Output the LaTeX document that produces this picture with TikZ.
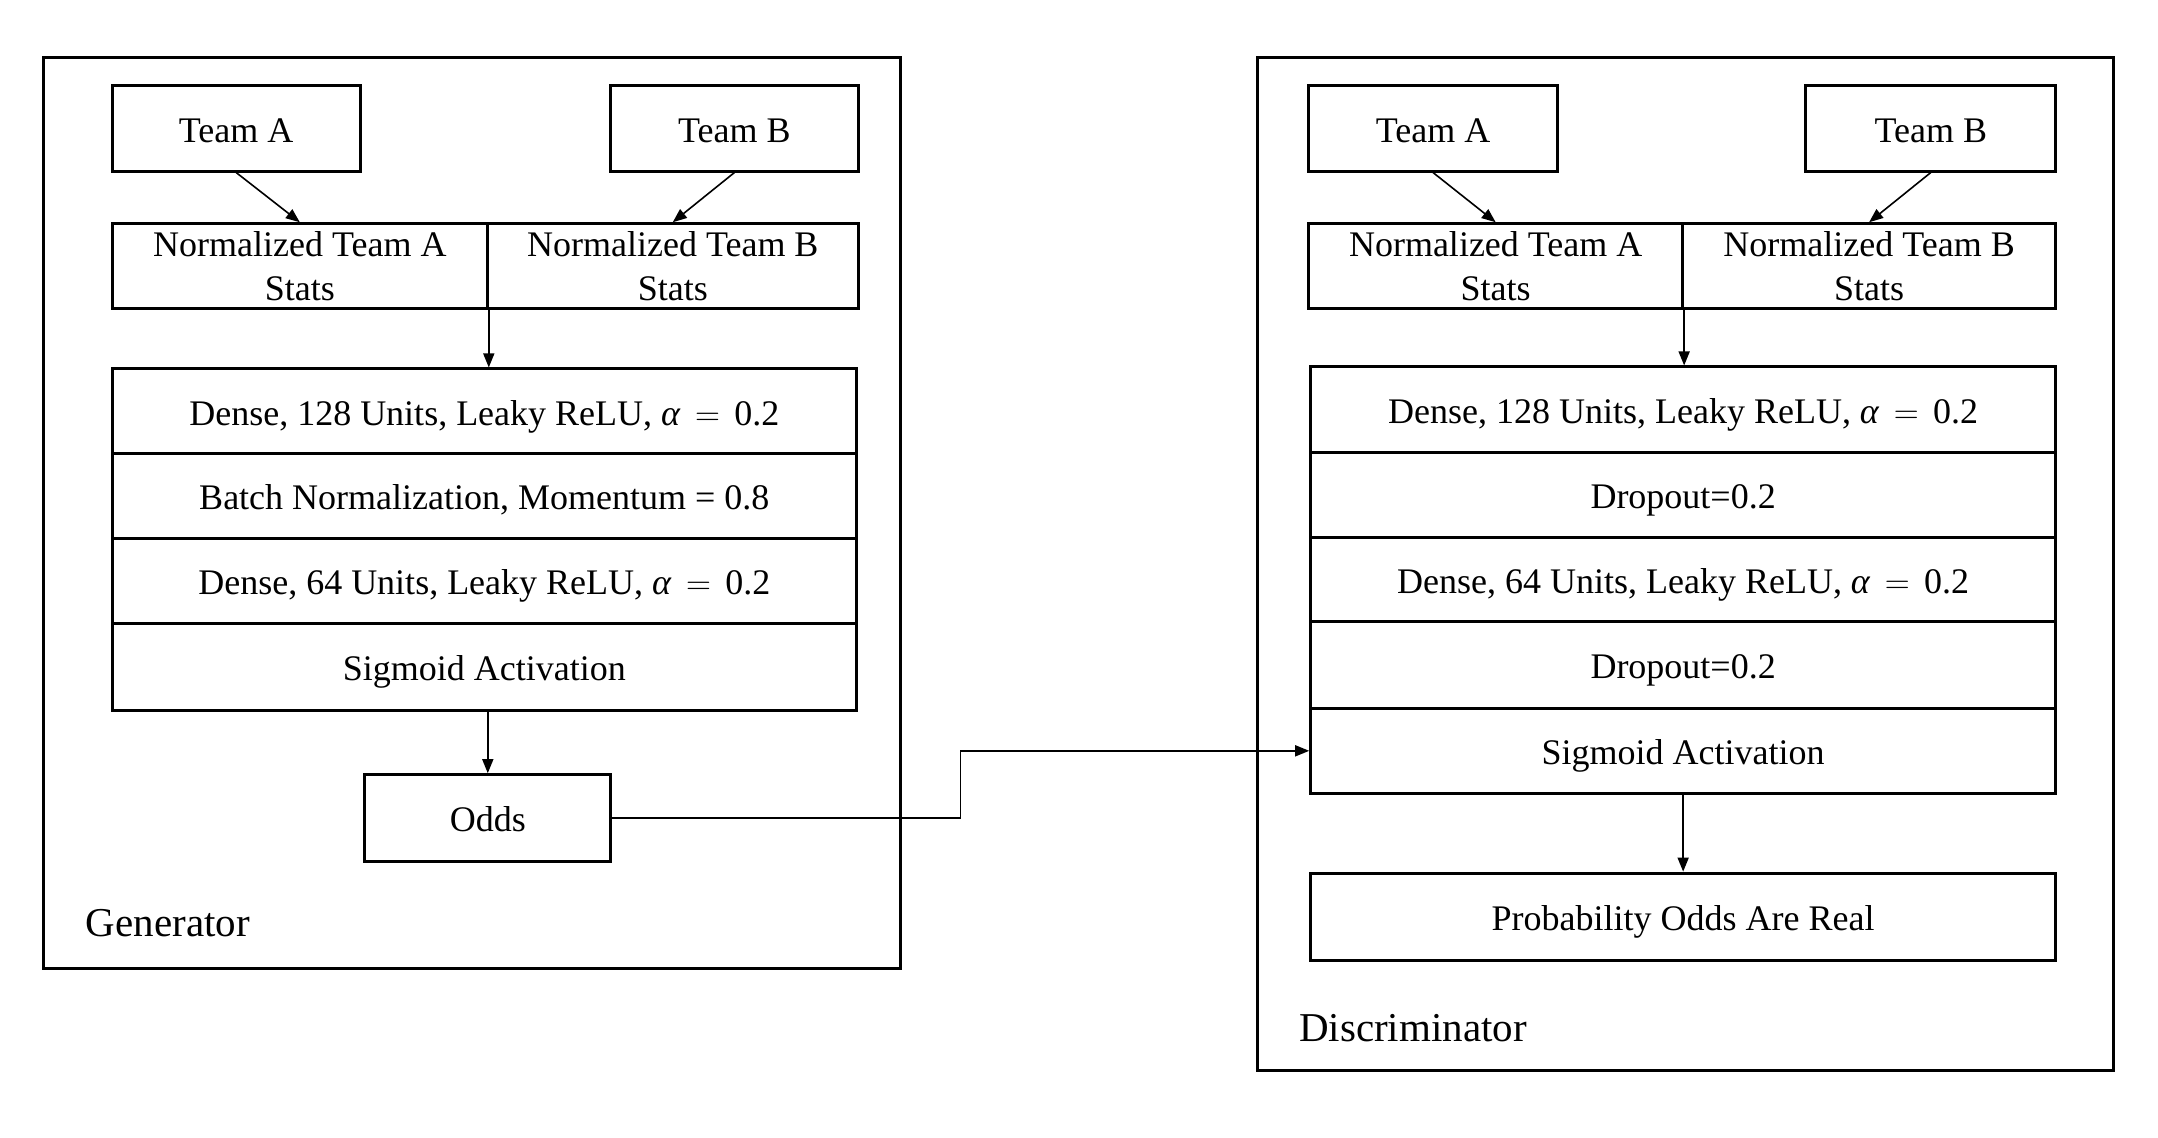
\documentclass[tikz,border=0pt]{standalone}
\usepackage{fontspec}
\setmainfont{Liberation Serif}
\usetikzlibrary{arrows.meta}
\def\u{0.4973pt}
\newcommand{\eqsp}[1]{\hspace{0.4em}$=$\hspace{0.4em}#1}
\begin{document}
\begin{tikzpicture}[x=\u,y=-\u,
  every node/.style={font=\fontsize{18pt}{22pt}\selectfont},
  outerbox/.style={draw, line width=1.5pt, inner sep=0pt},
  box/.style={draw, line width=1.5pt, inner sep=0pt, align=center},
  onebox/.style={box, text height=15pt, text depth=1pt},
  lbl/.style={inner sep=0pt, anchor=base west, font=\fontsize{20.5pt}{24pt}\selectfont},
  conn/.style={line width=0.8pt, -{Triangle[length=7pt,width=5.5pt]}}]
\useasboundingbox (0,0) rectangle (2170,1144.3);

% ---------------- Generator ----------------
\node[outerbox, minimum width=861*\u, minimum height=916*\u] (gen) at (474.5,516) {};
\node[onebox, minimum width=249*\u, minimum height=86*\u] (gta) at (237.5,129) {Team A};
\node[onebox, minimum width=249*\u, minimum height=86*\u] (gtb) at (738.5,129) {Team B};
\node[box, minimum width=377*\u, minimum height=85*\u] (gna) at (301.5,267.5) {Normalized Team A\\Stats};
\node[box, minimum width=373*\u, minimum height=85*\u] (gnb) at (676.5,267.5) {Normalized Team B\\Stats};
\node[onebox, minimum width=748*\u, minimum height=85*\u] (gs1) at (487,413.5) {Dense, 128 Units, Leaky ReLU, \textit{α}\eqsp{0.2}};
\node[onebox, minimum width=748*\u, minimum height=85*\u] (gs2) at (487,498.5) {Batch Normalization, Momentum = 0.8};
\node[onebox, minimum width=748*\u, minimum height=86*\u] (gs3) at (487,584) {Dense, 64 Units, Leaky ReLU, \textit{α}\eqsp{0.2}};
\node[onebox, minimum width=748*\u, minimum height=87*\u] (gs4) at (487,670.5) {Sigmoid Activation};
\node[onebox, minimum width=247*\u, minimum height=87*\u] (godds) at (490.5,822.5) {Odds};
\node[lbl] (glabel) at (86,942) {Generator};

\draw[conn] (gta.south) -- (gna.north);
\draw[conn] (gtb.south) -- (gnb.north);
\draw[conn] (gna.south east) -- (gna.south east |- gs1.north);
\draw[conn] (gs4.south -| godds.north) -- (godds.north);

% ---------------- Discriminator ----------------
\node[outerbox, minimum width=861*\u, minimum height=1018*\u] (disc) at (1694.5,567) {};
\node[onebox, minimum width=250*\u, minimum height=86*\u] (dta) at (1441,129) {Team A};
\node[onebox, minimum width=251*\u, minimum height=86*\u] (dtb) at (1941.5,129) {Team B};
\node[box, minimum width=376*\u, minimum height=85*\u] (dna) at (1504,267.5) {Normalized Team A\\Stats};
\node[box, minimum width=375*\u, minimum height=85*\u] (dnb) at (1879.5,267.5) {Normalized Team B\\Stats};
\node[onebox, minimum width=749*\u, minimum height=86*\u] (ds1) at (1692.5,412) {Dense, 128 Units, Leaky ReLU, \textit{α}\eqsp{0.2}};
\node[onebox, minimum width=749*\u, minimum height=85*\u] (ds2) at (1692.5,497.5) {Dropout=0.2};
\node[onebox, minimum width=749*\u, minimum height=85*\u] (ds3) at (1692.5,582.5) {Dense, 64 Units, Leaky ReLU, \textit{α}\eqsp{0.2}};
\node[onebox, minimum width=749*\u, minimum height=87*\u] (ds4) at (1692.5,668.5) {Dropout=0.2};
\node[onebox, minimum width=749*\u, minimum height=86*\u] (ds5) at (1692.5,755) {Sigmoid Activation};
\node[onebox, minimum width=749*\u, minimum height=88*\u] (dprob) at (1692.5,922) {Probability Odds Are Real};
\node[lbl] (dlabel) at (1306,1047) {Discriminator};

\draw[conn] (dta.south) -- (dna.north);
\draw[conn] (dtb.south) -- (dnb.north);
\draw[conn] (dna.south east) -- (dna.south east |- ds1.north);
\draw[conn] (ds5.south) -- (dprob.north);

% ---------------- Odds to Discriminator ----------------
\coordinate (bend) at (966,0);
\draw[conn] (godds.east) -- (godds.east -| bend) |- (ds5.west);
\end{tikzpicture}
\end{document}
